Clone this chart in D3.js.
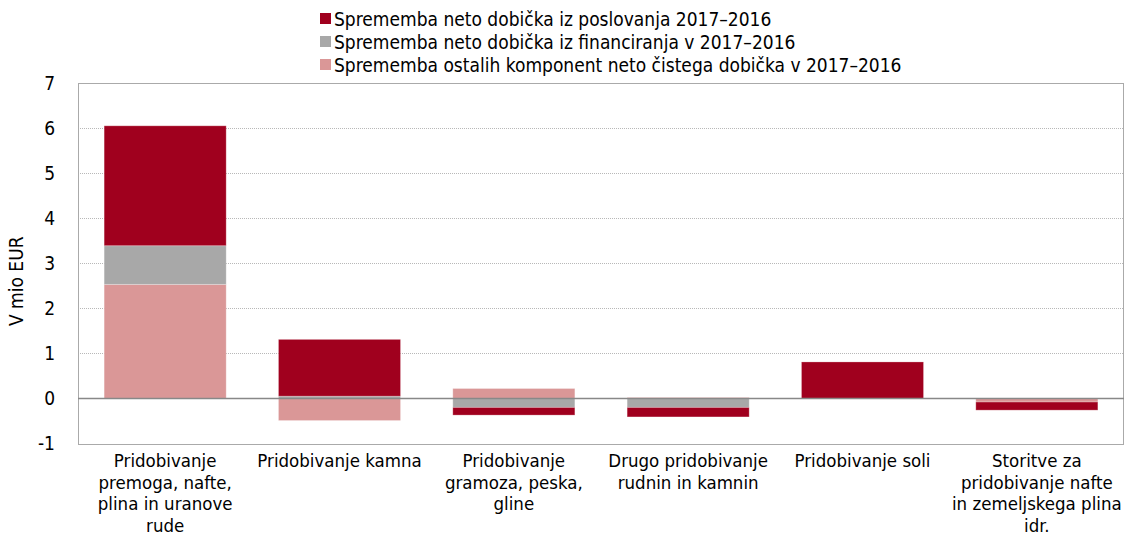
<!DOCTYPE html>
<html>
<head>
<meta charset="utf-8">
<script src="https://cdn.jsdelivr.net/npm/d3@7"></script>
<style>
  body { margin: 0; background: #fff; }
  svg text { font-family: "DejaVu Sans Condensed", "DejaVu Sans", sans-serif; fill: #000; }
</style>
</head>
<body>
<div id="chart"></div>
<script>
// chart data
const categories = [
    "Pridobivanje|premoga, nafte,|plina in uranove|rude",
    "Pridobivanje kamna",
    "Pridobivanje|gramoza, peska,|gline",
    "Drugo pridobivanje|rudnin in kamnin",
    "Pridobivanje soli",
    "Storitve za|pridobivanje nafte|in zemeljskega plina|idr."
];
const poslovanje = [2.66, 1.26, -0.17, -0.21, 0.81, -0.18];
const financiranje = [0.86, 0.05, -0.20, -0.20, 0.00, 0.00];
const ostalo = [2.53, -0.49, 0.22, 0.02, 0.00, -0.08];
const seriesNames = [
    "Sprememba neto dobička iz poslovanja 2017–2016",
    "Sprememba neto dobička iz financiranja v 2017–2016",
    "Sprememba ostalih komponent neto čistega dobička v 2017–2016"
];
const yTicks = [-1, 0, 1, 2, 3, 4, 5, 6, 7];

const width = 1126, height = 538;
const margin = {top: 83, right: 2, bottom: 94, left: 78};
const colors = {posl: "#a0001e", fin: "#a8a8a8", ost: "#da9797"};

const svg = d3.select("#chart")
    .append("svg")
    .attr("width", width)
    .attr("height", height);

const rows = categories.map((c, i) => ({cat: c, posl: poslovanje[i], fin: financiranje[i], ost: ostalo[i]}));

// stacked from zero: ostalo, then financiranje, then poslovanje
const stack = d3.stack()
    .keys(["ost", "fin", "posl"])
    .offset(d3.stackOffsetDiverging);
const layers = stack(rows);

const xScale = d3.scaleBand()
    .domain(categories)
    .range([margin.left, width - margin.right])
    .paddingInner(0.3)
    .paddingOuter(0.15);

const yScale = d3.scaleLinear()
    .domain([-1, 7])
    .range([height - margin.bottom - 0.5, margin.top]);

// grid lines
svg.append("g")
    .selectAll("line")
    .data(yTicks.filter(t => t > 0 && t < 7))
    .enter()
    .append("line")
    .attr("x1", margin.left)
    .attr("x2", width - margin.right)
    .attr("y1", d => Math.round(yScale(d)) + 0.5)
    .attr("y2", d => Math.round(yScale(d)) + 0.5)
    .attr("stroke", "#b8b8b8")
    .attr("stroke-dasharray", "1,1");

// frame
svg.append("rect")
    .attr("x", margin.left + 0.5)
    .attr("y", Math.round(yScale(7)) + 0.5)
    .attr("width", width - margin.right - margin.left - 1)
    .attr("height", Math.round(yScale(-1)) - Math.round(yScale(7)))
    .attr("fill", "none")
    .attr("stroke", "#aaa")
    .attr("stroke-width", 1);

// bars
svg.append("g")
    .selectAll("g")
    .data(layers)
    .enter()
    .append("g")
    .attr("fill", d => colors[d.key])
    .selectAll("rect")
    .data(d => d)
    .enter()
    .append("rect")
    .attr("x", d => xScale(d.data.cat))
    .attr("width", xScale.bandwidth())
    .attr("y", d => yScale(Math.max(d[0], d[1])))
    .attr("height", d => Math.abs(yScale(d[0]) - yScale(d[1])))
    .attr("stroke", "#fff")
    .attr("stroke-opacity", 0.25)
    .attr("stroke-width", 1);

// zero line
svg.append("line")
    .attr("x1", margin.left)
    .attr("x2", width - margin.right)
    .attr("y1", Math.round(yScale(0)) + 0.5)
    .attr("y2", Math.round(yScale(0)) + 0.5)
    .attr("stroke", "#888")
    .attr("stroke-width", 1.5);

// y labels
svg.append("g")
    .selectAll("text")
    .data(yTicks)
    .enter()
    .append("text")
    .attr("x", 55)
    .attr("y", d => yScale(d))
    .attr("dy", "0.35em")
    .attr("text-anchor", "end")
    .attr("font-size", "19px")
    .text(d => d);

svg.append("text")
    .attr("transform", `translate(23,${(yScale(7) + yScale(-1)) / 2 + 18}) rotate(-90)`)
    .attr("text-anchor", "middle")
    .attr("font-size", "19px")
    .text("V mio EUR");

// category labels
const catLabels = svg.append("g")
    .selectAll("text")
    .data(categories)
    .enter()
    .append("text")
    .attr("x", d => xScale(d) + xScale.bandwidth() / 2)
    .attr("y", 467)
    .attr("text-anchor", "middle")
    .attr("font-size", "18.5px");

catLabels.selectAll("tspan")
    .data(d => d.split("|").map(s => ({s: s, x: xScale(d) + xScale.bandwidth() / 2})))
    .enter()
    .append("tspan")
    .attr("x", d => d.x)
    .attr("dy", (d, i) => i === 0 ? 0 : 21.5)
    .text(d => d.s);

// legend
const legendKeys = ["posl", "fin", "ost"];
const legend = svg.append("g")
    .selectAll("g")
    .data(legendKeys)
    .enter()
    .append("g")
    .attr("transform", (d, i) => `translate(320,${19 + i * 23})`);

legend.append("rect")
    .attr("x", 0)
    .attr("y", -6)
    .attr("width", 11)
    .attr("height", 11)
    .attr("fill", d => colors[d]);

legend.append("text")
    .attr("x", 14)
    .attr("y", 0)
    .attr("dy", "0.35em")
    .attr("font-size", "19px")
    .text((d, i) => seriesNames[i]);
</script>
</body>
</html>
